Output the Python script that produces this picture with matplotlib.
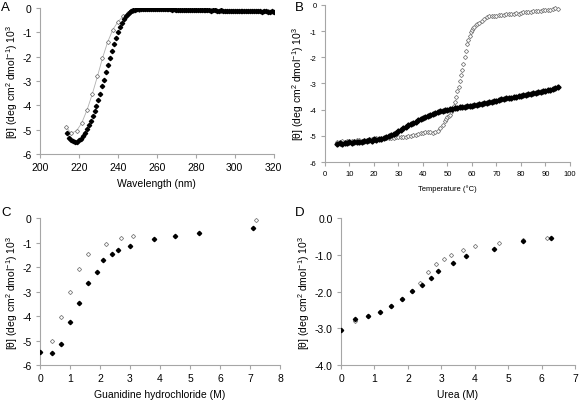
import matplotlib
matplotlib.use("Agg")
import matplotlib.pyplot as plt

plt.rcParams['font.family'] = ['Liberation Sans', 'DejaVu Sans']
plt.rcParams['mathtext.default'] = 'regular'
plt.rcParams['axes.unicode_minus'] = False

# ---- A: CD spectra ----
wl = list(range(214, 321))
cd_filled = [-5.15, -5.32, -5.42, -5.48, -5.52, -5.49, -5.43, -5.36, -5.27, -5.14,
             -4.98, -4.81, -4.63, -4.44, -4.24, -4.03, -3.79, -3.52, -3.22, -2.94,
             -2.65, -2.36, -2.06, -1.78, -1.50, -1.25, -1.00, -0.78, -0.60, -0.45,
             -0.33, -0.24, -0.17, -0.12, -0.09, -0.07, -0.06,
             -0.05, -0.05, -0.04, -0.05, -0.04, -0.04, -0.05, -0.04, -0.05, -0.05,
             -0.05, -0.06, -0.05, -0.06, -0.06, -0.05, -0.06, -0.07, -0.06, -0.07,
             -0.07, -0.08, -0.07, -0.08, -0.08, -0.07, -0.08, -0.09, -0.08, -0.09,
             -0.09, -0.10, -0.09, -0.10, -0.10, -0.09, -0.10, -0.11, -0.10, -0.10,
             -0.11, -0.11, -0.10, -0.12, -0.11, -0.12, -0.12, -0.11, -0.12, -0.13,
             -0.12, -0.13, -0.12, -0.13, -0.13, -0.14, -0.13, -0.13, -0.14, -0.14,
             -0.14, -0.13, -0.14, -0.15, -0.14, -0.14, -0.15, -0.15, -0.14, -0.15]
wl_open = [213.5, 216, 218.8, 221.4, 224.2, 226.8, 229.5, 232.1, 234.7, 237.4,
           240.1, 242.7, 245.4, 248, 250.7, 253.3, 256, 258.6, 261.3, 263.9,
           266.6, 269.2, 271.9, 274.5, 277.2, 279.8, 282.5, 285.1, 287.8, 290.4,
           293.1, 295.7, 298.4, 301, 303.7, 306.3, 309, 311.6, 314.3, 316.9, 319.6]
cd_open = [-4.90, -5.15, -5.04, -4.73, -4.18, -3.55, -2.81, -2.06, -1.41, -0.89,
           -0.56, -0.34, -0.19, -0.11, -0.07, -0.05, -0.05, -0.05, -0.05, -0.06,
           -0.06, -0.07, -0.07, -0.08, -0.08, -0.09, -0.09, -0.10, -0.10, -0.10,
           -0.11, -0.11, -0.12, -0.12, -0.12, -0.13, -0.13, -0.14, -0.14, -0.14, -0.15]

# ---- B: thermal melt ----
temp = list(range(5, 96))
melt_filled = [-5.33, -5.28, -5.31, -5.27, -5.29, -5.25, -5.27, -5.23, -5.25, -5.22,
               -5.24, -5.20, -5.21, -5.17, -5.18, -5.14, -5.15, -5.12, -5.11, -5.07,
               -5.06, -5.02, -4.98, -4.93, -4.88, -4.82, -4.76, -4.71, -4.66, -4.60,
               -4.56, -4.50, -4.46, -4.41, -4.36, -4.31, -4.27, -4.24, -4.20, -4.17,
               -4.13, -4.10, -4.07, -4.04, -4.02, -4.00, -3.98, -3.96, -3.94, -3.93,
               -3.91, -3.90, -3.89, -3.87, -3.88, -3.85, -3.83, -3.81, -3.79, -3.77,
               -3.75, -3.74, -3.71, -3.70, -3.68, -3.66, -3.63, -3.61, -3.60, -3.57,
               -3.56, -3.54, -3.52, -3.50, -3.48, -3.47, -3.45, -3.44, -3.41, -3.39,
               -3.38, -3.36, -3.34, -3.32, -3.30, -3.28, -3.26, -3.24, -3.21, -3.18, -3.12]
temp_open = list(range(5, 50)) + [49.5, 50, 50.5, 51, 51.5, 52, 52.5, 53, 53.5, 54,
                                  54.5, 55, 55.5, 56, 56.5, 57, 57.5, 58, 58.5, 59,
                                  59.5, 60, 60.5, 61, 61.5, 62] + list(range(63, 96))
melt_open = [-5.22, -5.24, -5.20, -5.23, -5.19, -5.21, -5.18, -5.20, -5.17, -5.16,
             -5.18, -5.15, -5.17, -5.14, -5.12, -5.13, -5.10, -5.12, -5.09, -5.10,
             -5.08, -5.10, -5.07, -5.09, -5.06, -5.05, -5.06, -5.03, -5.05, -5.02,
             -5.00, -4.98, -4.95, -4.93, -4.90, -4.88, -4.87, -4.85, -4.87, -4.89,
             -4.86, -4.80, -4.70, -4.58, -4.42,
             -4.35, -4.30, -4.26, -4.20, -4.10, -4.02, -3.85, -3.70, -3.50, -3.30,
             -3.15, -2.92, -2.68, -2.50, -2.25, -2.00, -1.75, -1.50, -1.33, -1.20,
             -1.05, -0.95, -0.88, -0.83, -0.78, -0.74,
             -0.68, -0.60, -0.53, -0.48, -0.44, -0.42, -0.42, -0.41, -0.40, -0.39,
             -0.38, -0.36, -0.35, -0.35, -0.33, -0.32, -0.33, -0.30, -0.29, -0.28,
             -0.29, -0.26, -0.25, -0.24, -0.24, -0.22, -0.21, -0.20, -0.19, -0.18,
             -0.16, -0.13, -0.15]

# ---- C: guanidine hydrochloride ----
gdn_filled_x = [0, 0.4, 0.7, 1.0, 1.3, 1.6, 1.9, 2.1, 2.4, 2.6, 3.0, 3.8, 4.5, 5.3, 7.1]
gdn_filled_y = [-5.46, -5.50, -5.15, -4.25, -3.47, -2.64, -2.20, -1.72, -1.48, -1.30,
                -1.15, -0.87, -0.72, -0.61, -0.41]
gdn_open_x = [0.4, 0.7, 1.0, 1.3, 1.6, 2.2, 2.7, 3.1, 7.2]
gdn_open_y = [-5.02, -4.04, -3.03, -2.07, -1.48, -1.08, -0.82, -0.73, -0.08]

# ---- D: urea ----
urea_filled_x = [0, 0.41, 0.81, 1.15, 1.5, 1.82, 2.11, 2.41, 2.68, 2.91, 3.36, 3.75,
                 4.58, 5.44, 6.28]
urea_filled_y = [-3.05, -2.76, -2.67, -2.55, -2.39, -2.19, -1.99, -1.83, -1.63, -1.44,
                 -1.22, -1.04, -0.84, -0.63, -0.53]
urea_open_x = [0.41, 0.81, 1.15, 1.5, 1.82, 2.11, 2.36, 2.61, 2.85, 3.08, 3.28, 3.66,
               4.0, 4.73, 5.44, 6.17]
urea_open_y = [-2.81, -2.67, -2.55, -2.39, -2.19, -1.99, -1.77, -1.48, -1.24, -1.11,
               -1.00, -0.87, -0.76, -0.67, -0.60, -0.54]

ylab = r'[$\theta$] (deg cm$^2$ dmol$^{-1}$) 10$^3$'
axis_gray = '#a6a6a6'
open_gray = '#7f7f7f'


def style(ax, fs):
    for s in ['top', 'right']:
        ax.spines[s].set_visible(False)
    for s in ['left', 'bottom']:
        ax.spines[s].set_color(axis_gray)
        ax.spines[s].set_linewidth(0.8)
    ax.tick_params(direction='out', length=3, width=0.8, color=axis_gray,
                   labelsize=fs, pad=3)


fig = plt.figure(figsize=(5.84, 4.06), dpi=100)

# A
axA = fig.add_axes([0.0685, 0.618, 0.40, 0.36])
axA.plot(wl_open, cd_open, color='#b0b0b0', lw=0.6, marker='D', ms=2.2,
         mfc='white', mec=open_gray, mew=0.6, zorder=2)
axA.plot(wl, cd_filled, ls='none', marker='D', ms=2.2, color='black', zorder=3)
axA.set_xlim(200, 320)
axA.set_ylim(-6, 0)
axA.set_xticks(range(200, 321, 20))
axA.set_yticks(range(-6, 1))
style(axA, 7.5)
axA.set_xlabel('Wavelength (nm)', fontsize=7.5, labelpad=4)
axA.set_ylabel(ylab, fontsize=7.5, labelpad=2)
fig.text(0.002, 0.995, 'A', fontsize=9.5, va='top')

# B
axB = fig.add_axes([0.5565, 0.5985, 0.4195, 0.387])
axB.plot(temp_open, melt_open, ls='none', marker='D', ms=2.2, mfc='white',
         mec=open_gray, mew=0.6, zorder=2)
axB.plot(temp, melt_filled, ls='none', marker='D', ms=2.6, color='black', zorder=3)
axB.set_xlim(0, 100)
axB.set_ylim(-6, 0)
axB.set_xticks(range(0, 101, 10))
axB.set_yticks(range(-6, 1))
style(axB, 5.5)
axB.set_xlabel('Temperature (°C)', fontsize=5.5, labelpad=5)
axB.set_ylabel(ylab, fontsize=7.5, labelpad=3)
fig.text(0.505, 0.995, 'B', fontsize=9.5, va='top')

# C
axC = fig.add_axes([0.0685, 0.0985, 0.411, 0.362])
axC.plot(gdn_open_x, gdn_open_y, ls='none', marker='D', ms=2.2, mfc='white',
         mec=open_gray, mew=0.6, zorder=2)
axC.plot(gdn_filled_x, gdn_filled_y, ls='none', marker='D', ms=2.2, color='black',
         zorder=3)
axC.set_xlim(0, 8)
axC.set_ylim(-6, 0)
axC.set_xticks(range(0, 9))
axC.set_yticks(range(-6, 1))
style(axC, 7.5)
axC.set_xlabel('Guanidine hydrochloride (M)', fontsize=7.5, labelpad=4)
axC.set_ylabel(ylab, fontsize=7.5, labelpad=2)
fig.text(0.002, 0.49, 'C', fontsize=9.5, va='top')

# D
axD = fig.add_axes([0.584, 0.0985, 0.4007, 0.362])
axD.plot(urea_open_x, urea_open_y, ls='none', marker='D', ms=2.2, mfc='white',
         mec=open_gray, mew=0.6, zorder=2)
axD.plot(urea_filled_x, urea_filled_y, ls='none', marker='D', ms=2.2, color='black',
         zorder=3)
axD.set_xlim(0, 7)
axD.set_ylim(-4, 0)
axD.set_xticks(range(0, 8))
axD.set_yticks([-4, -3, -2, -1, 0])
axD.set_yticklabels(['-4.0', '-3.0', '-2.0', '-1.0', '0.0'])
style(axD, 7.5)
axD.set_xlabel('Urea (M)', fontsize=7.5, labelpad=4)
axD.set_ylabel(ylab, fontsize=7.5, labelpad=2)
fig.text(0.505, 0.49, 'D', fontsize=9.5, va='top')

fig.savefig('out.png', dpi=100)
